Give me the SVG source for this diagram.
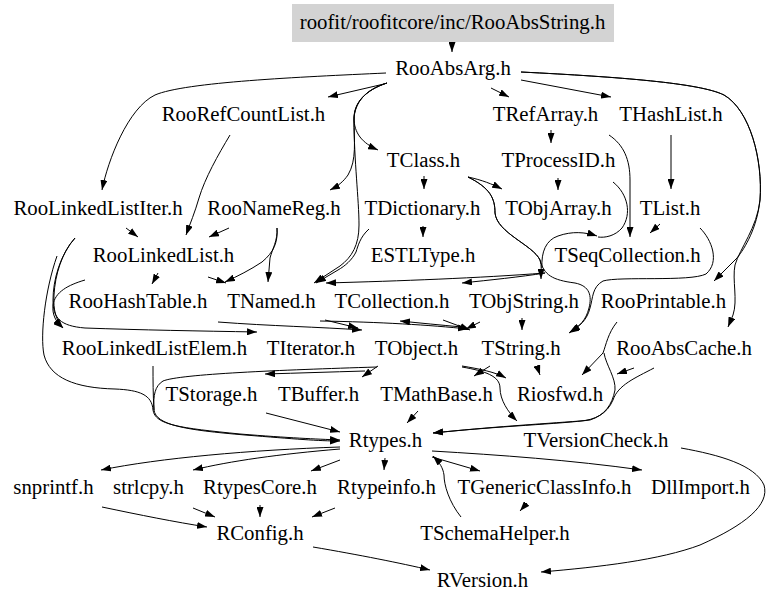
<svg xmlns="http://www.w3.org/2000/svg" width="768" height="605" viewBox="0 0 768 605">
<defs>
<style>
text{font-family:"Liberation Serif","Times New Roman",serif;font-size:20.8px;fill:#000;text-anchor:middle}
#edges path{fill:none;stroke:#000;stroke-width:1;marker-end:url(#ah)}
#edges path.nm{marker-end:none}
</style>
<marker id="ah" viewBox="0 0 10 7" refX="10" refY="3.5" markerWidth="10" markerHeight="7" markerUnits="userSpaceOnUse" orient="auto"><path d="M0,0 L10,3.5 L0,7 z" fill="#000"/></marker>
</defs>
<rect width="768" height="605" fill="#fff"/>
<g id="edges">
<path d="M452,42 L452,52"/>
<path d="M386,73 C300,77 185,82 155,95 C128,108 108,160 102,190"/>
<path d="M384,84 L328,97"/>
<path d="M387,83 C365,90 354,103 354,118 C354,133 362,143 378,150"/>
<path d="M387,83 C365,90 354,103 354,120 C354,140 357,160 348,175 C343,182 338,186 330,190"/>
<path d="M387,83 C365,90 354,103 354,120 C354,160 359,200 359,225 C359,245 352,257 340,266 L314,283"/>
<path d="M369,229 C360,237 358,246 356,252 C352,260 345,266 338,270 L316,283"/>
<path d="M491,88 L509,97"/>
<path d="M521,80 L611,97"/>
<path d="M521,72 C620,77 700,83 724,95 C750,110 763,160 760,200 C757,228 745,248 737,258 L714,281"/>
<path d="M521,72 C620,77 700,83 724,95 C750,110 763,160 760,200 C757,228 740,248 735,265 C732,280 738,300 733,315 L728,327"/>
<path d="M230,135 C218,155 205,178 199,198 C195,212 190,224 186,235"/>
<path d="M126,228 L138,237"/>
<path d="M229,228 L209,237"/>
<path d="M277,228 C278,240 272,250 270,258 L268,282"/>
<path d="M277,228 C278,242 274,252 262,262 C250,270 238,276 225,282"/>
<path d="M208,277 L226,283"/>
<path d="M158,273 L152,284"/>
<path d="M75,238 C62,252 55,275 54,295 C53,310 56,320 63,328"/>
<path d="M85,280 C68,285 55,292 53,305 C52,315 56,322 63,328"/>
<path d="M75,238 C60,255 53,280 53,300 C53,318 60,326 85,328 C140,330 200,331 257,332"/>
<path d="M57,256 C45,290 40,335 44,355 C50,378 75,388 115,389 C140,390 152,395 153,410 C155,425 180,428 240,434 C290,438 315,439 340,440"/>
<path d="M153,366 C153,380 153,395 154,410 C156,425 185,430 245,435 C295,439 318,441 340,441"/>
<path class="nm" d="M377,367 C280,370 180,374 163,381 C155,386 153,395 154,410"/>
<path d="M365,371 C330,372 300,373 265,374"/>
<path d="M378,366 L362,377"/>
<path d="M266,413 L340,432"/>
<path d="M418,411 L407,423"/>
<path d="M604,353 C606,365 616,378 615,390 C612,405 605,415 590,420 C560,424 500,426 433,433"/>
<path d="M654,368 C635,378 618,385 613,400 C607,414 595,420 580,421 C540,424 490,427 433,433"/>
<path d="M617,322 C608,333 606,345 603,353 L582,375"/>
<path d="M634,368 L617,374"/>
<path d="M537,366 L540,375"/>
<path d="M462,366 C480,369 495,372 506,378"/>
<path d="M462,367 C485,371 500,376 500,388 C500,400 508,412 517,421"/>
<path d="M490,366 L474,376"/>
<path d="M522,318 L522,330"/>
<path d="M480,322 L466,329"/>
<path d="M443,320 L470,330"/>
<path d="M320,321 C380,322 430,325 468,329"/>
<path d="M462,327 C440,325 420,323 400,321"/>
<path d="M325,320 L358,328"/>
<path d="M218,322 C270,326 320,327 362,330"/>
<path d="M551,130 L551,143"/>
<path d="M609,135 C624,145 630,160 630,180 L630,237"/>
<path d="M671,135 L671,189"/>
<path d="M558,178 L558,190"/>
<path d="M468,177 C482,180 492,184 502,189"/>
<path d="M424,176 L424,189"/>
<path d="M423,226 L423,237"/>
<path d="M468,177 C490,188 495,198 495,213 C497,233 533,245 540,260 C544,275 552,280 575,283 C590,286 592,296 589,308 C586,320 580,326 569,333"/>
<path d="M468,177 C490,188 495,198 495,213 C497,233 533,245 540,260 C542,266 541,271 541,279"/>
<path d="M542,268 C541,252 546,240 558,236 C572,231 585,232 597,236"/>
<path class="nm" d="M613,182 C628,194 632,214 622,228 C615,236 605,238 598,237"/>
<path d="M545,273 C520,277 490,280 462,283"/>
<path d="M545,273 C480,278 400,281 326,283"/>
<path d="M660,224 L650,233"/>
<path d="M700,228 C712,240 720,262 706,274 C690,282 620,276 603,281 C592,287 593,298 590,308 C587,320 580,326 570,332"/>
<path d="M340,447 C250,450 160,458 101,470"/>
<path d="M340,449 C280,454 230,461 193,470"/>
<path d="M340,460 L311,471"/>
<path d="M385,458 L384,470"/>
<path d="M461,517 C449,502 444,485 444,475 C443,468 440,463 433,456"/>
<path d="M432,457 L480,471"/>
<path d="M432,451 C500,455 570,460 642,470"/>
<path d="M527,503 L520,511"/>
<path d="M681,448 C720,455 755,465 764,485 C770,505 745,525 700,545 C660,560 600,567 541,572"/>
<path d="M313,547 C360,555 400,563 430,570"/>
<path d="M102,507 C140,515 175,522 207,527"/>
<path d="M193,508 L215,517"/>
<path d="M260,505 L260,517"/>
<path d="M335,508 L312,517"/>
</g>
<g id="n_RooAbsString"><rect x="292" y="4" width="322" height="38" fill="#d3d3d3"/><text x="452.5" y="29">roofit/roofitcore/inc/RooAbsString.h</text></g>
<g id="n_RooAbsArg"><text x="453" y="75">RooAbsArg.h</text></g>
<g id="n_RooRefCountList"><text x="243.5" y="121">RooRefCountList.h</text></g>
<g id="n_TRefArray"><text x="545.5" y="121">TRefArray.h</text></g>
<g id="n_THashList"><text x="671" y="121">THashList.h</text></g>
<g id="n_TClass"><text x="423.5" y="167">TClass.h</text></g>
<g id="n_TProcessID"><text x="558.5" y="167">TProcessID.h</text></g>
<g id="n_RooLinkedListIter"><text x="98" y="215">RooLinkedListIter.h</text></g>
<g id="n_RooNameReg"><text x="274" y="215">RooNameReg.h</text></g>
<g id="n_TDictionary"><text x="422.5" y="215">TDictionary.h</text></g>
<g id="n_TObjArray"><text x="558.5" y="215">TObjArray.h</text></g>
<g id="n_TList"><text x="670" y="215">TList.h</text></g>
<g id="n_RooLinkedList"><text x="163.5" y="262">RooLinkedList.h</text></g>
<g id="n_ESTLType"><text x="423" y="262">ESTLType.h</text></g>
<g id="n_TSeqCollection"><text x="627.5" y="262">TSeqCollection.h</text></g>
<g id="n_RooHashTable"><text x="138" y="308">RooHashTable.h</text></g>
<g id="n_TNamed"><text x="271.5" y="308">TNamed.h</text></g>
<g id="n_TCollection"><text x="392" y="308">TCollection.h</text></g>
<g id="n_TObjString"><text x="524" y="308">TObjString.h</text></g>
<g id="n_RooPrintable"><text x="663.5" y="308">RooPrintable.h</text></g>
<g id="n_RooLinkedListElem"><text x="154.5" y="355">RooLinkedListElem.h</text></g>
<g id="n_TIterator"><text x="311" y="355">TIterator.h</text></g>
<g id="n_TObject"><text x="416.5" y="355">TObject.h</text></g>
<g id="n_TString"><text x="521" y="355">TString.h</text></g>
<g id="n_RooAbsCache"><text x="684" y="355">RooAbsCache.h</text></g>
<g id="n_TStorage"><text x="211.5" y="401">TStorage.h</text></g>
<g id="n_TBuffer"><text x="318.5" y="401">TBuffer.h</text></g>
<g id="n_TMathBase"><text x="436.5" y="401">TMathBase.h</text></g>
<g id="n_Riosfwd"><text x="560" y="401">Riosfwd.h</text></g>
<g id="n_Rtypes"><text x="385.5" y="447">Rtypes.h</text></g>
<g id="n_TVersionCheck"><text x="596" y="447">TVersionCheck.h</text></g>
<g id="n_snprintf"><text x="53.5" y="494">snprintf.h</text></g>
<g id="n_strlcpy"><text x="148.5" y="494">strlcpy.h</text></g>
<g id="n_RtypesCore"><text x="260" y="494">RtypesCore.h</text></g>
<g id="n_Rtypeinfo"><text x="386.5" y="494">Rtypeinfo.h</text></g>
<g id="n_TGenericClassInfo"><text x="544.5" y="494">TGenericClassInfo.h</text></g>
<g id="n_DllImport"><text x="700.5" y="494">DllImport.h</text></g>
<g id="n_RConfig"><text x="260" y="540">RConfig.h</text></g>
<g id="n_TSchemaHelper"><text x="495" y="540">TSchemaHelper.h</text></g>
<g id="n_RVersion"><text x="482.5" y="587">RVersion.h</text></g>
</svg>
